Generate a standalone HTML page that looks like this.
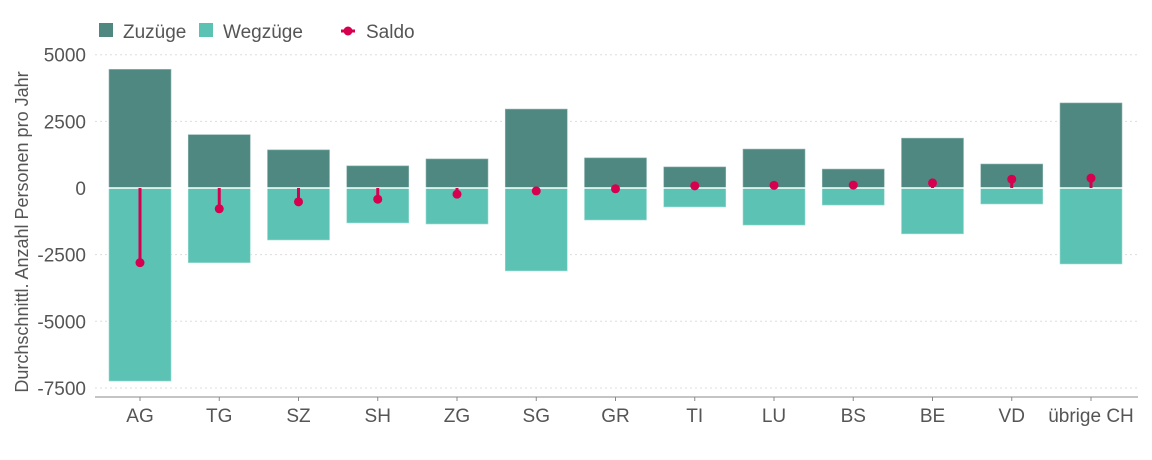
<!DOCTYPE html>
<html><head><meta charset="utf-8"><style>
body{margin:0;background:#fff;}
svg{display:block;font-family:"Liberation Sans",sans-serif;}
</style></head><body>
<svg id="chart" width="1152" height="460">
<g>
<rect x="99" y="23" width="14" height="14" fill="#4e8880"/>
<text x="123" y="38" font-size="19" fill="#555">Zuzüge</text>
<rect x="199" y="23" width="14" height="14" fill="#5bc2b4"/>
<text x="223" y="38" font-size="19" fill="#555">Wegzüge</text>
<line x1="341" y1="31" x2="355" y2="31" stroke="#d6004f" stroke-width="3"/>
<circle cx="348" cy="31" r="4.5" fill="#d6004f"/>
<text x="366" y="38" font-size="19" fill="#555">Saldo</text>
</g>
<text transform="translate(28,232) rotate(-90)" text-anchor="middle" font-size="18" fill="#555">Durchschnittl. Anzahl Personen pro Jahr</text>
<g id="grid"></g><g id="bars"></g><g id="saldo"></g><g id="xaxis"></g>
</svg>
<script>
const categories=["AG","TG","SZ","SH","ZG","SG","GR","TI","LU","BS","BE","VD","übrige CH"];
const zuzuege=[4450,2000,1430,830,1090,2960,1130,790,1460,710,1870,900,3190];
const wegzuege=[-7240,-2800,-1950,-1310,-1350,-3110,-1200,-710,-1390,-640,-1720,-600,-2850];
const saldo=[-2800,-780,-520,-420,-230,-110,-30,80,100,110,190,330,370];
const yTicks=[5000,2500,0,-2500,-5000,-7500];
const NS="http://www.w3.org/2000/svg";
const y0=188,k=133.3/5000;
const y=v=>y0-v*k;
const x=i=>140+i*79.25;
const bw=62;
function mk(t,a,p){const e=document.createElementNS(NS,t);for(const n in a)e.setAttribute(n,a[n]);document.getElementById(p).appendChild(e);return e;}
yTicks.forEach(t=>{
 const l=mk("line",{x1:95,x2:1138,y1:y(t),y2:y(t),stroke:"#ddd","stroke-dasharray":"2,3"},"grid");
 
 
 const tx=mk("text",{x:86,y:y(t)+7,"text-anchor":"end","font-size":19,fill:"#555"},"grid");
 tx.textContent=t;
 
 
});
categories.forEach((c,i)=>{
 const a=mk("rect",{x:x(i)-bw/2,y:y(zuzuege[i]),width:bw,height:y(0)-y(zuzuege[i]),fill:"#4e8880",stroke:"#8fb5b0","stroke-width":0.6},"bars");
 
 
 const b=mk("rect",{x:x(i)-bw/2,y:y(0),width:bw,height:y(wegzuege[i])-y(0),fill:"#5bc2b4",stroke:"#9ddbd2","stroke-width":0.6},"bars");
 
 
 const l=mk("line",{x1:x(i),x2:x(i),y1:y(0),y2:y(saldo[i]),stroke:"#d6004f","stroke-width":3},"saldo");
 
 
 const d=mk("circle",{cx:x(i),cy:y(saldo[i]),r:4.5,fill:"#d6004f"},"saldo");
 
 
 const tk=mk("line",{x1:x(i),x2:x(i),y1:397,y2:401,stroke:"#888"},"xaxis");
 
 
 const t=mk("text",{x:x(i),y:422,"text-anchor":"middle","font-size":19,fill:"#555"},"xaxis");
 t.textContent=c;
 
 
});
const zl=mk("line",{x1:95,x2:1138,y1:y0,y2:y0,stroke:"#fff","stroke-width":1.5},"bars");


const ax=mk("line",{x1:95,x2:1138,y1:397,y2:397,stroke:"#888"},"xaxis");


</script>
</body></html>
